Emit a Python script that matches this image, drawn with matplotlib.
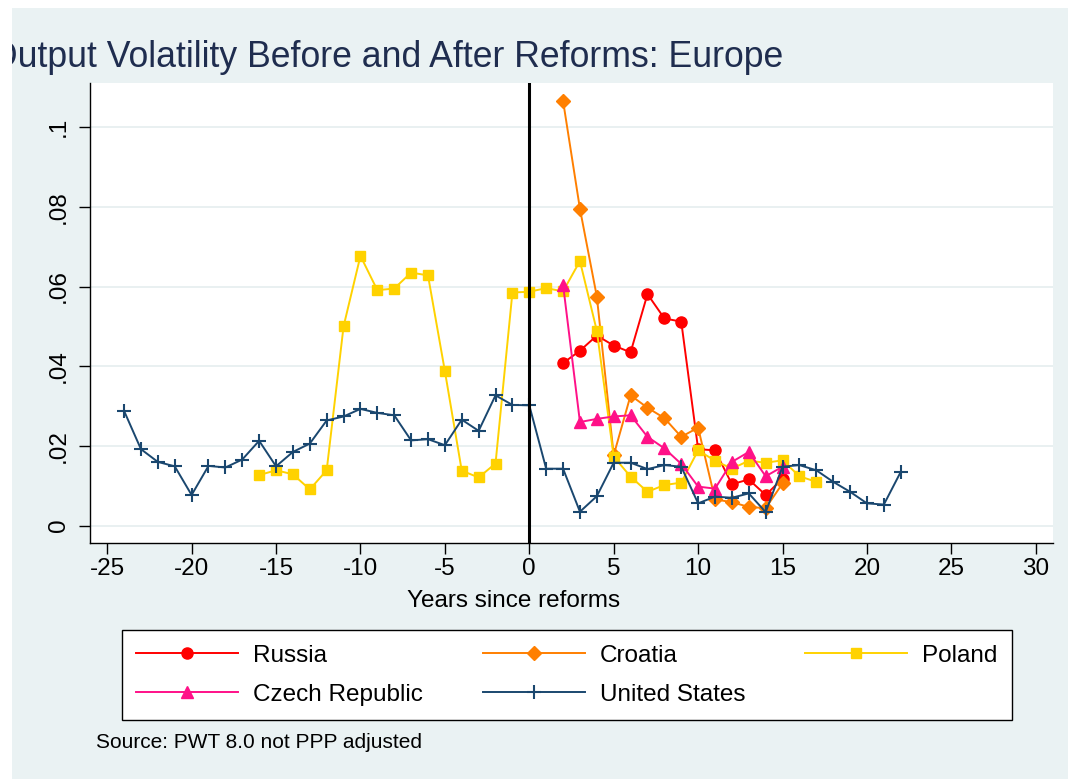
#! /usr/bin/python3

"""
Output volatility before and after reforms (Europe), Stata s2color look.
"""

from matplotlib import pyplot as plt
from matplotlib.patches import Rectangle
from matplotlib.ticker import FuncFormatter

plt.rcParams['font.family'] = ['Liberation Sans', 'DejaVu Sans']
plt.rcParams['axes.unicode_minus'] = False

# years since reforms and volatility for each country
russia_x = list(range(2, 16))
russia_y = [0.0408, 0.0439, 0.0477, 0.0452, 0.0435, 0.0581, 0.0520, 0.0512,
            0.0192, 0.0189, 0.0104, 0.0116, 0.0077, 0.0118]

croatia_x = list(range(2, 16))
croatia_y = [0.1066, 0.0795, 0.0575, 0.0177, 0.0327, 0.0296, 0.0270, 0.0223,
             0.0246, 0.0066, 0.0059, 0.0047, 0.0044, 0.0106]

poland_x = list(range(-16, 18))
poland_y = [0.0127, 0.0139, 0.0129, 0.0091, 0.0139, 0.0500, 0.0677, 0.0591,
            0.0595, 0.0635, 0.0628, 0.0388, 0.0138, 0.0121, 0.0156, 0.0585,
            0.0587, 0.0596, 0.0588, 0.0664, 0.0489, 0.0173, 0.0123, 0.0085,
            0.0102, 0.0108, 0.0189, 0.0163, 0.0143, 0.0163, 0.0158, 0.0164,
            0.0124, 0.0110]

czech_x = list(range(2, 16))
czech_y = [0.0605, 0.0260, 0.0268, 0.0274, 0.0277, 0.0223, 0.0194, 0.0155,
           0.0098, 0.0093, 0.0160, 0.0185, 0.0124, 0.0148]

us_x = list(range(-24, 23))
us_y = [0.0288, 0.0192, 0.0160, 0.0149, 0.0077, 0.0150, 0.0146, 0.0166,
        0.0213, 0.0149, 0.0185, 0.0206, 0.0264, 0.0274, 0.0293, 0.0283,
        0.0277, 0.0214, 0.0217, 0.0202, 0.0266, 0.0238, 0.0327, 0.0303,
        0.0302, 0.0143, 0.0143, 0.0035, 0.0074, 0.0158, 0.0158, 0.0142,
        0.0152, 0.0148, 0.0056, 0.0073, 0.0070, 0.0081, 0.0034, 0.0148,
        0.0152, 0.0139, 0.0110, 0.0085, 0.0056, 0.0053, 0.0135]

x_ticks = list(range(-25, 31, 5))
y_ticks = [0, 0.02, 0.04, 0.06, 0.08, 0.1]

W, H = 1068, 779
BG = '#EAF2F3'

fig = plt.figure(figsize=(W / 100, H / 100), dpi=100)
fig.patch.set_facecolor('white')

# graph region background (image is cropped a little at top/left)
fig.patches.append(Rectangle((12 / W, 0), 1 - 12 / W, 1 - 8 / H, transform=fig.transFigure,
                             facecolor=BG, edgecolor='none', zorder=-5))
fig.patches.append(Rectangle((0, 0), 12 / W, 1, transform=fig.transFigure,
                             facecolor='white', edgecolor='none', zorder=20))
fig.patches.append(Rectangle((0, 1 - 8 / H), 1, 8 / H, transform=fig.transFigure,
                             facecolor='white', edgecolor='none', zorder=20))

left, right, top, bottom = 90.3, 1052.7, 83.3, 542.7
ax = fig.add_axes([left / W, 1 - bottom / H, (right - left) / W, (bottom - top) / H])
ax.set_facecolor('white')

lw = 1.4
l_ru, = ax.plot(russia_x, russia_y, color='#FF0000', lw=lw, marker='o', ms=8,
                mec='#FF0000', label='Russia', zorder=3)
l_hr, = ax.plot(croatia_x, croatia_y, color='#FF7F00', lw=lw, marker='D', ms=6.8,
                mec='#FF7F00', label='Croatia', zorder=3)
l_pl, = ax.plot(poland_x, poland_y, color='#FFD200', lw=lw, marker='s', ms=7.8,
                mec='#FFD200', label='Poland', zorder=3)
l_cz, = ax.plot(czech_x, czech_y, color='#FF1188', lw=lw, marker='^', ms=8.5,
                mec='#FF1188', label='Czech Republic', zorder=3)
l_us, = ax.plot(us_x, us_y, color='#1A476F', lw=lw, marker='+', ms=10, mew=1.5,
                label='United States', zorder=3)

ax.axvline(0, color='black', lw=2.2, zorder=4)

ax.set_xlim(-26.0, 31.0)
ax.set_ylim(-0.00427, 0.111)
ax.set_xticks(x_ticks)
ax.set_yticks(y_ticks)
ax.yaxis.set_major_formatter(FuncFormatter(lambda v, p: '0' if v == 0 else ('%.2f' % v).rstrip('0').lstrip('0')))
ax.grid(axis='y', color='#E3ECEE', lw=1.1, zorder=0)
ax.set_axisbelow(True)

for s in ['top', 'right']:
    ax.spines[s].set_visible(False)
for s in ['left', 'bottom']:
    ax.spines[s].set_linewidth(1.0)
    ax.spines[s].set_color('black')

ax.tick_params(axis='both', direction='out', length=8, width=1.0, labelsize=17.5, colors='black')
ax.tick_params(axis='x', pad=3)
ax.tick_params(axis='y', pad=6.5, labelrotation=90)
for t in ax.get_yticklabels():
    t.set_va('center')

ax.set_xlabel('Years since reforms', fontsize=17.5)
ax.xaxis.set_label_coords((514 - left) / (right - left), (bottom - 607) / (bottom - top))
ax.xaxis.label.set_va('baseline')

fig.text(-9.5 / W, 1 - 66.7 / H, 'Output Volatility Before and After Reforms: Europe',
         fontsize=25.7, color='#1F2D4F', ha='left', va='baseline')

fig.text(95.7 / W, 1 - 748 / H, 'Source: PWT 8.0 not PPP adjusted', fontsize=15,
         ha='left', va='baseline')

# legend is filled column-wise, so order handles to read row-wise
leg = fig.legend([l_ru, l_cz, l_hr, l_us, l_pl],
                 ['Russia', 'Czech Republic', 'Croatia', 'United States', 'Poland'],
                 loc='upper left', bbox_to_anchor=(121.7 / W, 1 - 630 / H), ncol=3,
                 fontsize=17.5, frameon=True, fancybox=False, framealpha=1,
                 edgecolor='black', facecolor='white', borderaxespad=0,
                 handlelength=4.2, handletextpad=0.62, columnspacing=2.45,
                 labelspacing=0.71, borderpad=0.6, numpoints=1)
leg.get_frame().set_linewidth(1.0)

plt.savefig('out.png', dpi=100)
